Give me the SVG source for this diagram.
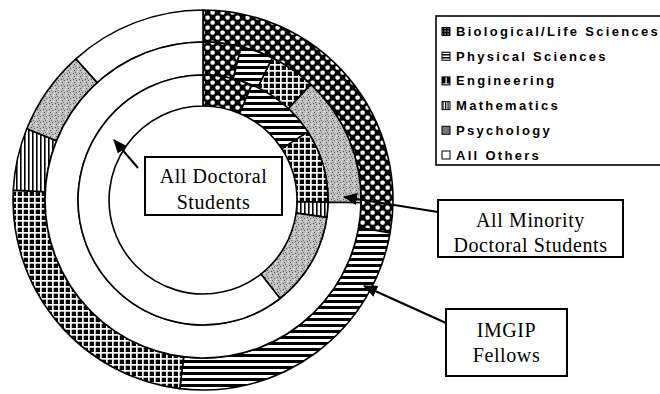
<svg xmlns="http://www.w3.org/2000/svg" width="660" height="394" viewBox="0 0 660 394">
<style>
.seg{stroke:#000;stroke-width:1.6;stroke-linejoin:round}
.bio{fill:url(#pBio)}.phys{fill:url(#pPhys)}.eng{fill:url(#pEng)}.math{fill:url(#pMath)}.psy{fill:url(#pPsy)}.oth{fill:#fff}
.box{fill:#fff;stroke:#000;stroke-width:2}
.lbl{font-family:"Liberation Serif","Times New Roman",serif;font-size:20px;fill:#000;text-anchor:middle;letter-spacing:0.6px}
.leg{font-family:"Liberation Sans",Arial,sans-serif;font-size:13px;font-weight:bold;fill:#000;letter-spacing:2.3px}
.ico{stroke:#000;stroke-width:1}
.conn{stroke:#000;stroke-width:2;fill:none;marker-end:url(#ah)}
</style>
<defs>
<pattern id="pBio" width="10" height="10" patternUnits="userSpaceOnUse">
<rect width="10" height="10" fill="#000"/>
<rect x="0.4" y="0.4" width="4.4" height="4.4" rx="1.7" fill="#fff"/>
<rect x="5.4" y="5.4" width="4.4" height="4.4" rx="1.7" fill="#fff"/>
</pattern>
<pattern id="pPhys" width="6" height="6" patternUnits="userSpaceOnUse">
<rect width="6" height="6" fill="#fff"/>
<rect width="6" height="3" fill="#000"/>
</pattern>
<pattern id="pEng" width="6" height="6" patternUnits="userSpaceOnUse">
<rect width="6" height="6" fill="#000"/>
<rect x="4" width="1.7" height="6" fill="#fff"/>
<rect y="4" width="6" height="1.7" fill="#fff"/>
</pattern>
<pattern id="pMath" width="4" height="4" patternUnits="userSpaceOnUse">
<rect width="4" height="4" fill="#fff"/>
<rect width="1.6" height="4" fill="#000"/>
</pattern>
<pattern id="pPsy" width="6" height="6" patternUnits="userSpaceOnUse">
<rect width="6" height="6" fill="#bdbdbd"/>
<rect x="1" y="1" width="1" height="1" fill="#555"/>
<rect x="4" y="2" width="1" height="1" fill="#666"/>
<rect x="2" y="4" width="1" height="1" fill="#555"/>
<rect x="5" y="5" width="1" height="1" fill="#eee"/>
<rect x="0" y="3" width="1" height="1" fill="#eee"/>
<rect x="3" y="0" width="1" height="1" fill="#777"/>
</pattern>
<pattern id="sBio" width="3" height="3" patternUnits="userSpaceOnUse">
<rect width="3" height="3" fill="#000"/>
<rect x="0.5" y="0.5" width="1.2" height="1.2" fill="#fff"/>
</pattern>
<pattern id="sPhys" width="3" height="3" patternUnits="userSpaceOnUse">
<rect width="3" height="3" fill="#fff"/>
<rect width="3" height="1.5" fill="#000"/>
</pattern>
<pattern id="sEng" width="8" height="8" patternUnits="userSpaceOnUse" x="442" y="0">
<rect width="8" height="8" fill="#000"/>
<rect x="3.5" width="1.2" height="8" fill="#fff"/>
<rect y="3.5" width="8" height="1.2" fill="#fff"/>
</pattern>
<pattern id="sMath" width="2.5" height="2.5" patternUnits="userSpaceOnUse">
<rect width="2.5" height="2.5" fill="#fff"/>
<rect width="1.2" height="2.5" fill="#000"/>
</pattern>
<marker id="ah" viewBox="0 0 14 12" refX="13" refY="6" markerWidth="14" markerHeight="12" markerUnits="userSpaceOnUse" orient="auto">
<path d="M0,0 L14,6 L0,12 Z" fill="#000"/>
</marker>
</defs>
<rect width="660" height="394" fill="#fff"/>

<g id="ring-imgip">
<path class="seg bio" d="M203,10 A190,190 0 0 1 390.1,233 L358.6,227.4 A158,158 0 0 0 203,42 Z"/>
<path class="seg phys" d="M390.1,233 A190,190 0 0 1 179.8,388.6 L183.7,356.8 A158,158 0 0 0 358.6,227.4 Z"/>
<path class="seg eng" d="M179.8,388.6 A190,190 0 0 1 13.3,190.1 L45.2,191.7 A158,158 0 0 0 183.7,356.8 Z"/>
<path class="seg math" d="M13.3,190.1 A190,190 0 0 1 26.8,128.8 L56.5,140.8 A158,158 0 0 0 45.2,191.7 Z"/>
<path class="seg psy" d="M26.8,128.8 A190,190 0 0 1 75.9,58.8 L97.3,82.6 A158,158 0 0 0 56.5,140.8 Z"/>
<path class="seg oth" d="M75.9,58.8 A190,190 0 0 1 203,10 L203,42 A158,158 0 0 0 97.3,82.6 Z"/>
</g>
<g id="ring-minority">
<path class="seg bio" d="M203,42 A158,158 0 0 1 241.2,46.7 L233.2,78.7 A125,125 0 0 0 203,75 Z"/>
<path class="seg phys" d="M241.2,46.7 A158,158 0 0 1 272.3,58 L257.8,87.6 A125,125 0 0 0 233.2,78.7 Z"/>
<path class="seg eng" d="M272.3,58 A158,158 0 0 1 310.8,84.4 L288.3,108.6 A125,125 0 0 0 257.8,87.6 Z"/>
<path class="seg psy" d="M310.8,84.4 A158,158 0 0 1 361,202.8 L328,202.2 A125,125 0 0 0 288.3,108.6 Z"/>
<path class="seg oth" d="M361,202.8 A158,158 0 1 1 203,42 L203,75 A125,125 0 1 0 328,202.2 Z"/>
</g>
<g id="ring-all">
<path class="seg bio" d="M203,75 A125,125 0 0 1 251.8,84.9 L239.7,113.5 A94,94 0 0 0 203,106 Z"/>
<path class="seg phys" d="M251.8,84.9 A125,125 0 0 1 307.8,131.9 L281.8,148.8 A94,94 0 0 0 239.7,113.5 Z"/>
<path class="seg eng" d="M307.8,131.9 A125,125 0 0 1 328,202.2 L297,201.6 A94,94 0 0 0 281.8,148.8 Z"/>
<path class="seg math" d="M328,202.2 A125,125 0 0 1 326.8,217.4 L296.1,213.1 A94,94 0 0 0 297,201.6 Z"/>
<path class="seg psy" d="M326.8,217.4 A125,125 0 0 1 280,298.5 L260.9,274.1 A94,94 0 0 0 296.1,213.1 Z"/>
<path class="seg oth" d="M280,298.5 A125,125 0 1 1 203,75 L203,106 A94,94 0 1 0 260.9,274.1 Z"/>
</g>

<g id="legend">
<rect x="436" y="16" width="232" height="149" fill="#fff" stroke="#000" stroke-width="1.6"/>
<rect class="ico" x="442" y="27.5" width="8" height="8" fill="url(#sBio)"/>
<text class="leg" x="456" y="36">Biological/Life Sciences</text>
<rect class="ico" x="442" y="52.2" width="8" height="8" fill="url(#sPhys)"/>
<text class="leg" x="456" y="60.7">Physical Sciences</text>
<rect class="ico" x="442" y="76.9" width="8" height="8" fill="url(#sEng)"/>
<text class="leg" x="456" y="85.4">Engineering</text>
<rect class="ico" x="442" y="101.6" width="8" height="8" fill="url(#sMath)"/>
<text class="leg" x="456" y="110.1">Mathematics</text>
<rect class="ico" x="442" y="126.3" width="8" height="8" fill="#777"/>
<text class="leg" x="456" y="134.8">Psychology</text>
<rect class="ico" x="442" y="151" width="8" height="8" fill="#fff"/>
<text class="leg" x="456" y="159.5">All Others</text>
</g>

<g id="connectors">
<line class="conn" x1="138" y1="168" x2="114" y2="140"/>
<line class="conn" x1="438" y1="212" x2="344" y2="197"/>
<line class="conn" x1="446" y1="323" x2="364" y2="286"/>
</g>

<g id="label-all-doctoral">
<rect class="box" x="145" y="157" width="137" height="58"/>
<text class="lbl" x="213.5" y="183">All Doctoral</text>
<text class="lbl" x="213.5" y="209">Students</text>
</g>
<g id="label-minority">
<rect class="box" x="438" y="200" width="185" height="57"/>
<text class="lbl" x="530.5" y="226.5">All Minority</text>
<text class="lbl" x="530.5" y="252">Doctoral Students</text>
</g>
<g id="label-imgip">
<rect class="box" x="446" y="309" width="121" height="67"/>
<text class="lbl" x="506.5" y="337">IMGIP</text>
<text class="lbl" x="506.5" y="362">Fellows</text>
</g>
</svg>
